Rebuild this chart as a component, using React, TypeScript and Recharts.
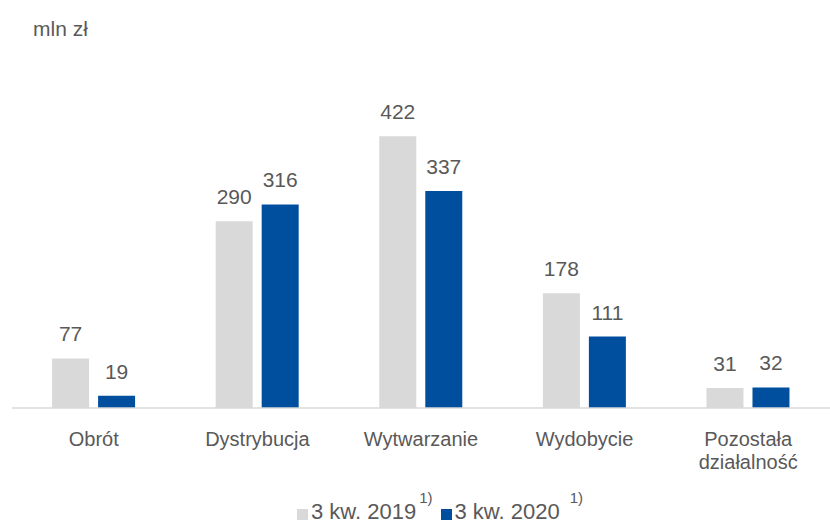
import { BarChart, Bar, XAxis, YAxis, LabelList, Legend } from 'recharts';

const categories = ['Obrót', 'Dystrybucja', 'Wytwarzanie', 'Wydobycie', 'Pozostała działalność'];
const values2019 = [77, 290, 422, 178, 31];
const values2020 = [19, 316, 337, 111, 32];
const seriesNames = ['3 kw. 2019', '3 kw. 2020'];
const COLORS = ['#d9d9d9', '#004f9f'];
const TEXT = '#595959';
const FONT = '"Liberation Sans", Arial, sans-serif';

const data = categories.map((name, i) => ({
  name,
  v2019: values2019[i],
  v2020: values2020[i],
}));

const CategoryTick = ({ x, y, payload }: any) => {
  const lines = payload.value === 'Pozostała działalność' ? ['Pozostała', 'działalność'] : [payload.value];
  return (
    <text x={x} y={y} textAnchor="middle" fill={TEXT} fontSize={20} fontFamily={FONT}>
      {lines.map((l, i) => (
        <tspan key={i} x={x} dy={i === 0 ? 30 : 23}>
          {l}
        </tspan>
      ))}
    </text>
  );
};

const LegendBox = () => (
  <div style={{ display: 'flex', justifyContent: 'center', fontFamily: FONT, fontSize: 22, color: TEXT, paddingLeft: 46, lineHeight: '24px' }}>
    {seriesNames.map((n, i) => (
      <span key={n} style={{ display: 'flex', alignItems: 'center' }}>
        <span style={{ display: 'inline-block', width: 11, height: 11, background: COLORS[i], marginRight: 3, marginTop: 4 }} />
        {n}
        <span style={{ fontSize: 15, position: 'relative', top: -14, marginLeft: i === 0 ? 3 : 10, marginRight: 8 }}>1)</span>
      </span>
    ))}
  </div>
);

export default function App() {
  return (
    <div style={{ position: 'fixed', left: 0, top: 0, width: 830, height: 524, background: '#fff' }}>
      <div style={{ position: 'absolute', left: 33, top: 17, fontFamily: FONT, fontSize: 21, color: TEXT }}>mln zł</div>
      <BarChart
        width={830}
        height={524}
        data={data}
        margin={{ top: 86, right: 0, bottom: 0, left: 12 }}
        barCategoryGap="24.5%"
        barGap={9}
      >
        <XAxis
          dataKey="name"
          tick={<CategoryTick />}
          tickLine={false}
          axisLine={{ stroke: '#d9d9d9', strokeWidth: 1.5 }}
          height={92}
          interval={0}
        />
        <YAxis hide domain={[0, 500]} />
        <Legend content={<LegendBox />} verticalAlign="bottom" wrapperStyle={{ bottom: 0 }} />
        <Bar dataKey="v2019" name={seriesNames[0]} fill={COLORS[0]} isAnimationActive={false}>
          <LabelList dataKey="v2019" position="top" offset={17} fill={TEXT} fontSize={21} fontFamily={FONT} />
        </Bar>
        <Bar dataKey="v2020" name={seriesNames[1]} fill={COLORS[1]} isAnimationActive={false}>
          <LabelList dataKey="v2020" position="top" offset={17} fill={TEXT} fontSize={21} fontFamily={FONT} />
        </Bar>
      </BarChart>
    </div>
  );
}
